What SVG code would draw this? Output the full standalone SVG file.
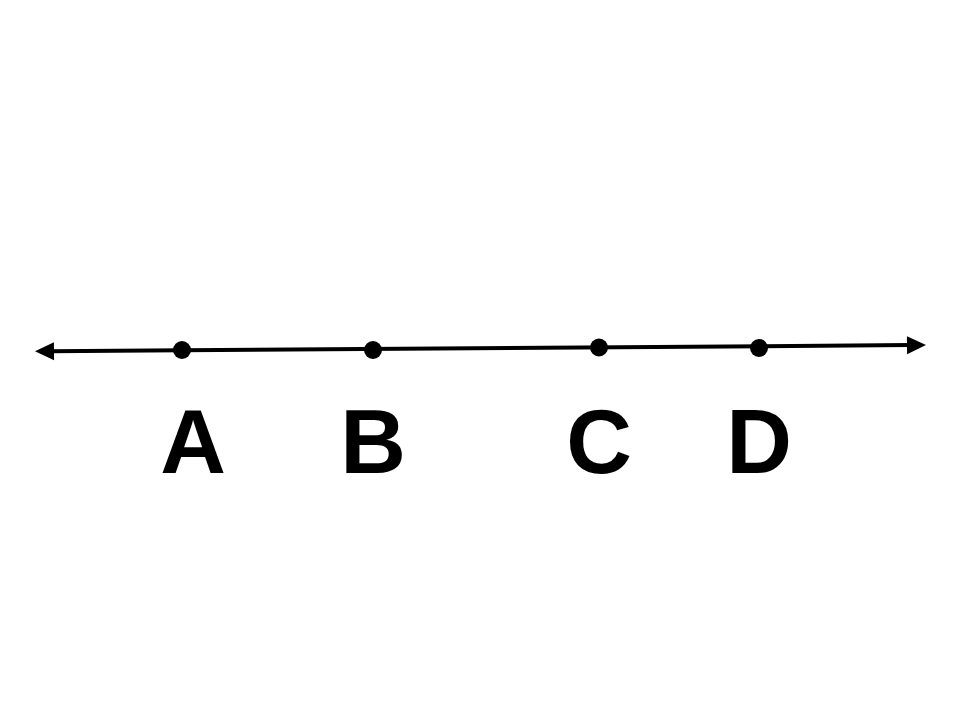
<svg xmlns="http://www.w3.org/2000/svg" width="960" height="720" viewBox="0 0 960 720">
<style>
.lbl{font-family:"Liberation Sans",Arial,sans-serif;font-weight:bold;font-size:91px;fill:#000;text-anchor:middle}
.dot{fill:#000}
</style>
<defs>
<marker id="ah" markerWidth="19" markerHeight="18" refX="4" refY="9" orient="auto" markerUnits="userSpaceOnUse" overflow="visible">
<path d="M0,0 L19,9 L0,18 Z" fill="#000"/>
</marker>
</defs>
<rect width="960" height="720" fill="#fff"/>
<g id="connectors">
<line x1="182" y1="350.3" x2="50" y2="351.2" stroke="#000" stroke-width="4" marker-end="url(#ah)"/>
<line x1="182" y1="350.3" x2="911" y2="345.1" stroke="#000" stroke-width="4" marker-end="url(#ah)"/>
</g>
<g id="A"><circle class="dot" cx="182" cy="350" r="9"/><text class="lbl" x="193" y="473">A</text></g>
<g id="B"><circle class="dot" cx="373" cy="350" r="9"/><text class="lbl" x="373" y="473">B</text></g>
<g id="C"><circle class="dot" cx="599" cy="347.5" r="9"/><text class="lbl" x="599" y="473">C</text></g>
<g id="D"><circle class="dot" cx="759" cy="348" r="9"/><text class="lbl" x="759" y="473">D</text></g>
</svg>
